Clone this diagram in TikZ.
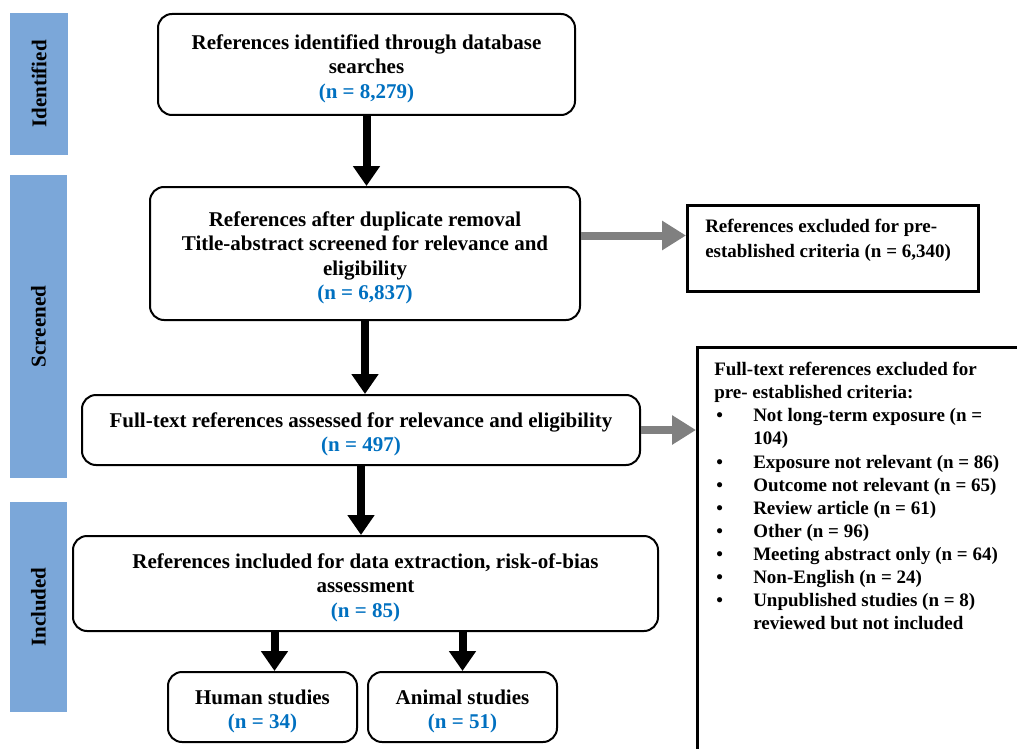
\documentclass[tikz,border=0pt]{standalone}
\usepackage{fontspec}
\setmainfont{Liberation Serif}
\usetikzlibrary{arrows.meta}
\definecolor{sideblue}{HTML}{7BA7D9}
\definecolor{numblue}{HTML}{0070C0}
\definecolor{arrgray}{HTML}{808080}
\newcommand\nb[1]{\textcolor{numblue}{#1}}
\newcommand\topstrut{\rule{0pt}{23pt}}
\newcommand\bul[1]{\par\noindent\hangindent=39pt\hangafter=1\makebox[39pt][l]{\hspace{2pt}\textbullet}#1}
\begin{document}
\begin{tikzpicture}[x=1pt,y=-1pt,
  mainbox/.style={draw, line width=2pt, rounded corners=14pt, align=center, inner sep=0pt,
    font=\bfseries\fontsize{21}{24.5}\selectfont},
  side/.style={fill=sideblue, rotate=90, inner sep=0pt,
    font=\bfseries\fontsize{21}{24}\selectfont},
  exbox/.style={draw, line width=2.5pt, inner sep=0pt, anchor=north west,
    font=\bfseries\fontsize{19}{23.1}\selectfont},
  bigarrow/.style={line width=8pt, -{Triangle[width=26pt,length=20pt]}},
  grayarrow/.style={draw=arrgray, line width=8pt, -{Triangle[width=28pt,length=24pt]}, color=arrgray}]
\useasboundingbox (0,0) rectangle (1017,749);
\clip (0,0) rectangle (1017,749);
% sidebars
\node[side, minimum width=142pt, minimum height=58pt] (s1) at (39,84) {Identified};
\node[side, minimum width=303pt, minimum height=57pt] (s2) at (38.5,326.5) {Screened};
\node[side, minimum width=210pt, minimum height=57pt] (s3) at (38.5,607) {Included};
% main boxes
\node[mainbox, minimum width=417pt, minimum height=101pt] (b1) at (366.5,64.5)
  {\topstrut References identified through database\\searches\\\nb{(n = 8,279)}};
\node[mainbox, minimum width=430pt, minimum height=133pt] (b2) at (365,253.5)
  {\topstrut References after duplicate removal\\Title-abstract screened for relevance and\\eligibility\\\nb{(n = 6,837)}};
\node[mainbox, minimum width=558pt, minimum height=70pt] (b3) at (361,430)
  {\topstrut Full-text references assessed for relevance and eligibility\\\nb{(n = 497)}};
\node[mainbox, minimum width=585pt, minimum height=95pt] (b4) at (365.5,583.5)
  {\topstrut References included for data extraction, risk-of-bias\\assessment\\\nb{(n = 85)}};
\node[mainbox, minimum width=189pt, minimum height=70pt] (hum) at (262.5,707)
  {\topstrut Human studies\\\nb{(n = 34)}};
\node[mainbox, minimum width=189pt, minimum height=70pt] (ani) at (462.5,707)
  {\topstrut Animal studies\\\nb{(n = 51)}};
% exclusion boxes
\node[exbox, minimum width=291pt, minimum height=86pt] (ex1) at (686,204)
  {\parbox[c][70pt][t]{255pt}{\fontsize{19}{24.5}\selectfont\raggedright\vspace*{6pt}References excluded for pre-\\established criteria (n = 6,340)}};
\node[exbox, minimum width=400pt, minimum height=450pt] (ex2) at (696,346)
  {\parbox[c][432pt][t]{366pt}{\raggedright\vspace*{6pt}Full-text references excluded for\\pre- established criteria:
  \bul{Not long-term exposure (n =\newline 104)}
  \bul{Exposure not relevant (n = 86)}
  \bul{Outcome not relevant (n = 65)}
  \bul{Review article (n = 61)}
  \bul{Other (n = 96)}
  \bul{Meeting abstract only (n = 64)}
  \bul{Non-English (n = 24)}
  \bul{Unpublished studies (n = 8)\newline reviewed but not included}\par}};
% arrows
\draw[bigarrow] (b1.south) -- (b1.south |- b2.north);
\draw[bigarrow] (b2.south) -- (b2.south |- b3.north);
\draw[bigarrow] (b3.south) -- (b3.south |- b4.north);
\draw[bigarrow] ([xshift=12pt]hum.north |- b4.south) -- ([xshift=12pt]hum.north);
\draw[bigarrow] (ani.north |- b4.south) -- (ani.north);
\draw[grayarrow] ([yshift=18pt]b2.east) -- ([yshift=18pt]b2.east -| ex1.west);
\draw[grayarrow] (b3.east) -- (b3.east -| ex2.west);
\end{tikzpicture}
\end{document}
